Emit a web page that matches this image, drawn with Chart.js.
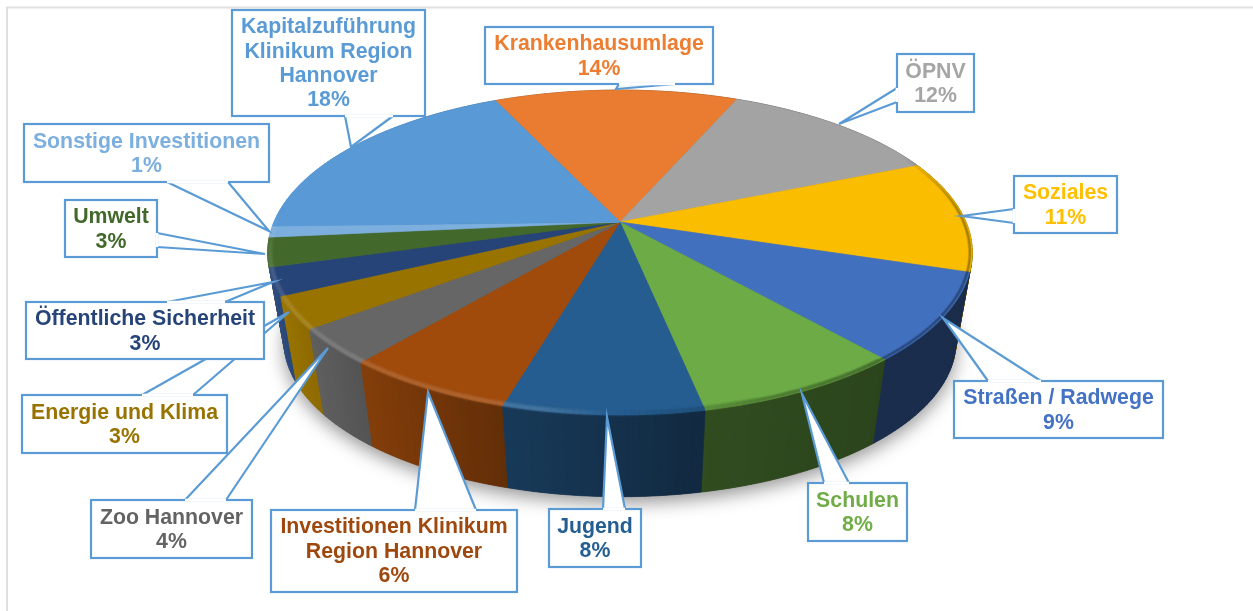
<!DOCTYPE html>
<html><head><meta charset="utf-8">
<style>html,body{margin:0;padding:0;background:#fff;overflow:hidden}canvas{display:block}</style>
<script src="https://cdn.jsdelivr.net/npm/chart.js@4"></script>
</head><body><canvas id="c" width="1253" height="611"></canvas>
<script>
const categories=[["Krankenhausumlage"],["ÖPNV"],["Soziales"],["Straßen / Radwege"],["Schulen"],["Jugend"],["Investitionen Klinikum","Region Hannover"],["Zoo Hannover"],["Energie und Klima"],["Öffentliche Sicherheit"],["Umwelt"],["Sonstige Investitionen"],["Kapitalzuführung","Klinikum Region","Hannover"]];
const shares=[13.4,12.2,11.2,8.7,8.2,7.7,6.6,3.55,3.2,2.75,2.9,1.1,18.5];
const percentLabels=["14%","12%","11%","9%","8%","8%","6%","4%","3%","3%","3%","1%","18%"];
const colors=["#E97C30","#A3A3A3","#FBBD00","#4170BF","#6CAB46","#265D90","#A04B0C","#666666","#997300","#264478","#43682B","#7CAFDD","#5899D6"];
const textColors=["#ED7D31","#A5A5A5","#FFC000","#4472C4","#70AD47","#255E91","#9E480E","#636363","#997300","#264478","#43682B","#7CAFDD","#5B9BD5"];
// callout layout: index into categories, box [x0,y0,x1,y1], wedge base a, base b, tip
const callouts=[
 [0,[485,27,713,84],[619,84],[675,84],[616,89]],
 [1,[897,54,974,112],[897,88],[897,102],[839,124]],
 [2,[1014,176,1117,233],[1014,209],[1014,223],[962,216]],
 [3,[954,381,1163,438],[988,381],[1041,381],[943,318]],
 [4,[808,483,907,541],[824,483],[849,483],[802,394]],
 [5,[549,509,641,567],[603,509],[625,509],[607,417]],
 [6,[271,510,517,592],[415,510],[476,510],[428,392]],
 [7,[91,500,252,558],[185,500],[226,500],[328,348]],
 [8,[22,395,227,453],[142,395],[193,395],[289,312]],
 [9,[26,302,264,359],[167,302],[225,302],[273,282]],
 [10,[65,200,157,257],[157,233],[157,247],[265,254]],
 [11,[24,124,269,182],[167,182],[228,182],[269,231]],
 [12,[232,10,425,116],[345,116],[393,116],[351,147]]
];
const VIEW={k:0.188,rx:346/222,ry:156.7/222,lowRx:330/222,lowRy:150/222,lowDrop:90};

function rgb(h){return [1,3,5].map(i=>parseInt(h.substr(i,2),16));}
function shade(h,f){const c=rgb(h).map(v=>f<=1?v*f:v+(255-v)*(f-1));return `rgb(${c.map(v=>Math.round(v)).join(",")})`;}
function project(arc,t,low){
  const u=Math.cos(t),v=Math.sin(t),w=1-VIEW.k*v,r=arc.outerRadius;
  return low?{x:arc.x+r*VIEW.lowRx*u/w,y:arc.y+VIEW.lowDrop+r*VIEW.lowRy*v/w}
            :{x:arc.x+r*VIEW.rx*u/w,y:arc.y+r*VIEW.ry*v/w};
}
function wallFactor(x){
  const s=[[270,1.05],[300,0.95],[360,0.82],[500,0.62],[620,0.52],[700,0.45],[880,0.40],[980,0.40]];
  if(x<=s[0][0])return s[0][1];
  for(let i=1;i<s.length;i++)if(x<=s[i][0]){const a=s[i-1],b=s[i];return a[1]+(b[1]-a[1])*(x-a[0])/(b[0]-a[0]);}
  return s[s.length-1][1];
}
const pie3d={
  id:"pie3d",
  beforeDraw(chart){
    const c=chart.ctx;c.save();c.fillStyle="#fff";c.fillRect(0,0,1253,611);
    c.strokeStyle="#E0E0E0";c.lineWidth=2;c.beginPath();c.moveTo(7,611);c.lineTo(7,7.5);c.lineTo(1253,7.5);c.stroke();c.restore();
  },
  beforeDatasetsDraw(chart){
    const c=chart.ctx,arcs=chart.getDatasetMeta(0).data,STEP=Math.PI/180;
    c.save();
    const a0=arcs[0];
    c.save();c.beginPath();
    for(let i=0;i<=360;i++){const p=project(a0,i*STEP,true);i?c.lineTo(p.x,p.y):c.moveTo(p.x,p.y);}
    c.closePath();c.shadowColor="rgba(0,0,0,.42)";c.shadowBlur=18;c.shadowOffsetY=6;c.fillStyle="#555";c.fill();c.restore();
    // outer walls, painted back to front
    const quads=[];
    arcs.forEach(a=>{
      for(let t=a.startAngle;t<a.endAngle;t+=STEP){
        const e=Math.min(t+STEP,a.endAngle),sn=Math.sin((t+e)/2);
        quads.push({a,t,e,sn});
      }
    });
    quads.sort((m,n)=>m.sn-n.sn);
    quads.forEach(({a,t,e})=>{
      const col=a.options.backgroundColor;
      const p=project(a,t),q=project(a,e),P=project(a,t,true),Q=project(a,e,true);
      const fs=shade(col,wallFactor((p.x+q.x)/2));
      c.fillStyle=fs;c.strokeStyle=fs;c.lineWidth=.7;
      c.beginPath();c.moveTo(p.x,p.y);c.lineTo(q.x,q.y);c.lineTo(Q.x,Q.y);c.lineTo(P.x,P.y);c.closePath();c.fill();c.stroke();
    });
    // top faces
    arcs.forEach(a=>{
      const col=a.options.backgroundColor;
      c.beginPath();c.moveTo(a.x,a.y);
      for(let t=a.startAngle;t<a.endAngle;t+=STEP/2){const p=project(a,t);c.lineTo(p.x,p.y);}
      const e=project(a,a.endAngle);c.lineTo(e.x,e.y);c.closePath();
      c.fillStyle=col;c.strokeStyle=col;c.lineWidth=.6;c.fill();c.stroke();
    });
    // rim bevel
    c.lineCap="butt";
    arcs.forEach(a=>{
      const col=a.options.backgroundColor;
      for(let t=a.startAngle;t<a.endAngle;t+=STEP){
        const e=Math.min(t+STEP,a.endAngle),mid=(t+e)/2,sn=Math.sin(mid);
        const p=project(a,t),q=project(a,e),mx=(p.x+q.x)/2;
        const start=mx>660?-0.45:-0.1;
        const strength=Math.min(1,(sn-start)/0.4);
        if(strength<=0)continue;
        const f=mx<540?1.25:mx>760?Math.max(0.4,0.55-(mx-760)/800):1.25-(mx-540)/220*0.7;
        const scale=mx>880?0.55:mx>760?0.8:1;
        const ins=1.5/a.outerRadius;
        const ox=(a.x-mx)*ins,oy=(a.y-(p.y+q.y)/2)*ins*1.4;
        c.strokeStyle=shade(col,f);
        [[7,.16],[5,.22],[3,.3]].forEach(([w,al])=>{
          c.globalAlpha=al*strength;c.lineWidth=w*scale;
          c.beginPath();c.moveTo(p.x+ox,p.y+oy);c.lineTo(q.x+ox,q.y+oy);c.stroke();
        });
      }
    });
    c.restore();
    return false;
  },
  afterDraw(chart){
    const c=chart.ctx;
    c.save();
    callouts.forEach(([i,b,A,B,T])=>{
      c.lineJoin="miter";
      c.fillStyle="#fff";c.strokeStyle="#5B9BD5";c.lineWidth=2.2;
      c.beginPath();c.moveTo(A[0],A[1]);c.lineTo(T[0],T[1]);c.lineTo(B[0],B[1]);c.closePath();c.fill();
      c.fillRect(b[0],b[1],b[2]-b[0],b[3]-b[1]);
      c.strokeRect(b[0],b[1],b[2]-b[0],b[3]-b[1]);
      c.beginPath();c.moveTo(A[0],A[1]);c.lineTo(T[0],T[1]);c.lineTo(B[0],B[1]);c.stroke();
      c.strokeStyle="#fff";c.lineWidth=2.6;c.beginPath();c.moveTo(A[0],A[1]);c.lineTo(B[0],B[1]);c.stroke();
      const lines=[...categories[i],percentLabels[i]],lh=24.4;
      const cx=(b[0]+b[2])/2,cy=(b[1]+b[3])/2;
      c.font='bold 21.3px "Liberation Sans", Arial, sans-serif';c.textAlign="center";c.textBaseline="middle";c.fillStyle=textColors[i];
      lines.forEach((s,n)=>c.fillText(s,cx,cy+(n-(lines.length-1)/2)*lh+1));
    });
    c.restore();
  }
};
new Chart(document.getElementById("c"),{
  type:"pie",
  data:{labels:categories.map(l=>l.join(" ")),datasets:[{data:shares,backgroundColor:colors,borderWidth:0}]},
  options:{responsive:false,animation:false,rotation:-24.9,
    layout:{padding:{left:0,right:13,top:0,bottom:167}},
    plugins:{legend:{display:false},tooltip:{enabled:false}}},
  plugins:[pie3d]
});
</script></body></html>
